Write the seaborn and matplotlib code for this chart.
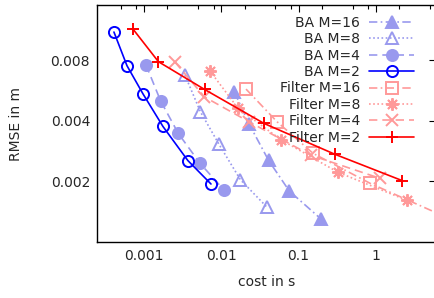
import numpy as np
import seaborn as sns
import matplotlib
matplotlib.use("Agg")
import matplotlib.pyplot as plt
from matplotlib.ticker import LogLocator, NullLocator, FixedFormatter, NullFormatter

# cost (s) and RMSE (m) per series
ba16_cost = [1.48e-2, 2.28e-2, 4.08e-2, 7.58e-2, 0.195]
ba16_rmse = [0.00554, 0.003865, 0.002545, 0.00179, 0.0013]
ba8_cost = [3.39e-3, 5.37e-3, 9.33e-3, 1.77e-2, 3.85e-2]
ba8_rmse = [0.00674, 0.00443, 0.003056, 0.002036, 0.001496]
ba4_cost = [1.06e-3, 1.64e-3, 2.78e-3, 5.3e-3, 1.09e-2]
ba4_rmse = [0.00758, 0.00502, 0.003458, 0.00246, 0.001806]
ba2_cost = [4.09e-4, 6.03e-4, 9.7e-4, 1.76e-3, 3.7e-3, 7.36e-3]
ba2_rmse = [0.01102, 0.0075, 0.00544, 0.003745, 0.002535, 0.00194]
f16_cost = [2.09e-2, 5.26e-2, 0.1535, 0.839, 8.0]
f16_rmse = [0.00574, 0.003953, 0.002755, 0.001956, 0.00133]
f8_cost = [7.14e-3, 1.64e-2, 5.92e-2, 0.3235, 2.52]
f8_rmse = [0.00706, 0.00462, 0.003218, 0.002218, 0.001609]
f4_cost = [2.52e-3, 6.06e-3, 2.28e-2, 0.1446, 1.13]
f4_rmse = [0.00782, 0.00525, 0.003953, 0.002694, 0.00207]
f2_cost = [7.2e-4, 1.54e-3, 6.07e-3, 3.57e-2, 0.296, 2.19]
f2_rmse = [0.01141, 0.00785, 0.00572, 0.003877, 0.002723, 0.002016]

light_blue = "#9999ee"
light_red = "#ff9999"

series = [
    ("BA M=16", ba16_cost, ba16_rmse, light_blue, "^", True, (0, (5, 2, 1, 2))),
    ("BA M=8", ba8_cost, ba8_rmse, light_blue, "^", False, (0, (1, 1.5))),
    ("BA M=4", ba4_cost, ba4_rmse, light_blue, "o", True, (0, (5, 3))),
    ("BA M=2", ba2_cost, ba2_rmse, "#0000ff", "o", False, "-"),
    ("Filter M=16", f16_cost, f16_rmse, light_red, "s", False, (0, (5, 2, 1, 2))),
    ("Filter M=8", f8_cost, f8_rmse, light_red, (8, 2, 0), True, (0, (1, 1.5))),
    ("Filter M=4", f4_cost, f4_rmse, light_red, "x", True, (0, (5, 3))),
    ("Filter M=2", f2_cost, f2_rmse, "#ff0000", "+", True, "-"),
]

sns.set_style("white")
plt.rcParams["font.family"] = ["DejaVu Sans"]
plt.rcParams["font.size"] = 10

fig = plt.figure(figsize=(4.35, 2.98), dpi=100)
ax = fig.add_axes([0.223, 0.188, 0.779, 0.795])

for label, x, y, color, marker, filled, ls in series:
    sns.lineplot(x=x, y=y, ax=ax, color=color, marker=marker, linestyle=ls,
                 linewidth=1.2, markersize=9 if marker != "o" else 8,
                 markerfacecolor=color if filled else "none",
                 markeredgecolor=color, markeredgewidth=1.4,
                 label=label, sort=False)

ax.set_xscale("log")
ax.set_yscale("log")
ax.set_xlim(2.47e-4, 5.96)
ax.set_ylim(0.001, 0.015)

ax.set_xticks([0.001, 0.01, 0.1, 1])
ax.xaxis.set_major_formatter(FixedFormatter(["0.001", "0.01", "0.1", "1"]))
ax.xaxis.set_minor_locator(LogLocator(base=10, subs=[2, 5, 8]))
ax.xaxis.set_minor_formatter(NullFormatter())
ax.set_yticks([0.002, 0.004, 0.008])
ax.yaxis.set_major_formatter(FixedFormatter(["0.002", "0.004", "0.008"]))
ax.yaxis.set_minor_locator(NullLocator())

ax.tick_params(which="both", direction="in", top=True, right=True, color="black")
ax.tick_params(which="major", length=5, width=0.8, labelsize=10, pad=5)
ax.tick_params(which="minor", length=3, width=0.8)
for s in ax.spines.values():
    s.set_color("black")
    s.set_linewidth(1.0)

ax.set_xlabel("cost in s", fontsize=10, labelpad=9)
ax.set_ylabel("RMSE in m", fontsize=10, labelpad=20)

leg = ax.legend(loc="upper right", bbox_to_anchor=(0.965, 0.995), frameon=False,
                markerfirst=False, handlelength=3.25, labelspacing=0.17,
                handletextpad=0.65, borderaxespad=0.3, fontsize=10)

fig.savefig("out.png", dpi=100)
